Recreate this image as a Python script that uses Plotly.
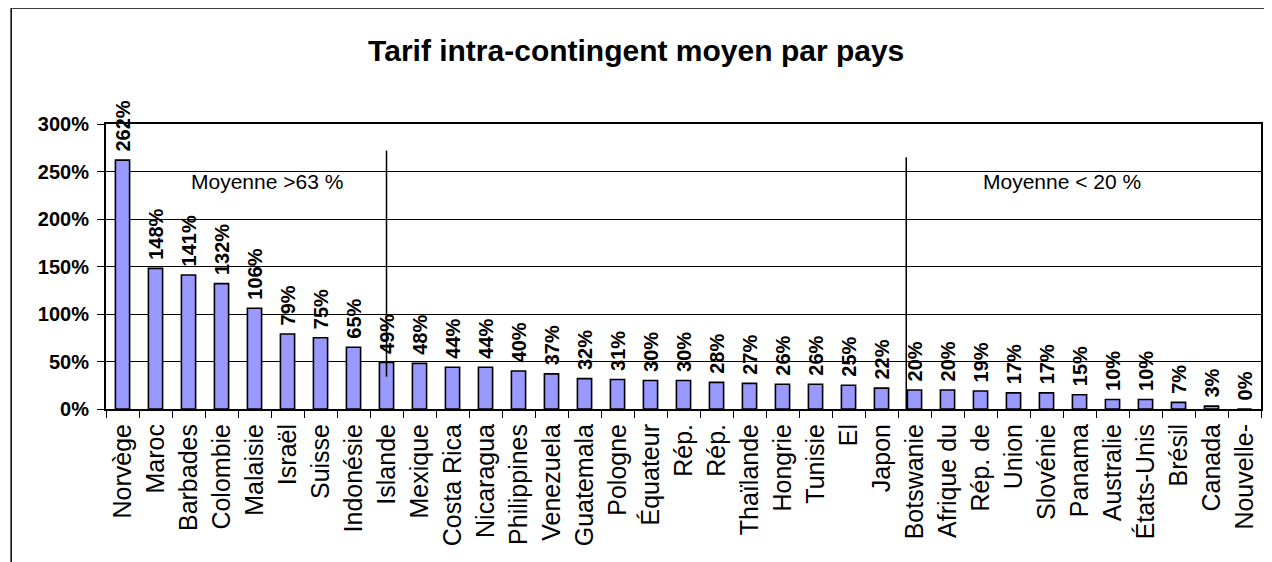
import plotly.graph_objects as go

# Tarif intra-contingent moyen par pays (%)
pays = ["Norvège", "Maroc", "Barbades", "Colombie", "Malaisie", "Israël", "Suisse",
        "Indonésie", "Islande", "Mexique", "Costa Rica", "Nicaragua", "Philippines",
        "Venezuela", "Guatemala", "Pologne", "Équateur", "Rép.", "Rép.", "Thaïlande",
        "Hongrie", "Tunisie", "El", "Japon", "Botswanie", "Afrique du", "Rép. de",
        "Union", "Slovénie", "Panama", "Australie", "États-Unis", "Brésil", "Canada",
        "Nouvelle-"]
tarif = [262, 148, 141, 132, 106, 79, 75, 65, 49, 48, 44, 44, 40, 37, 32, 31, 30, 30,
         28, 27, 26, 26, 25, 22, 20, 20, 19, 17, 17, 15, 10, 10, 7, 3, 0]
y_ticks = [0, 50, 100, 150, 200, 250, 300]
y_labels = ["0%", "50%", "100%", "150%", "200%", "250%", "300%"]

# the page body adds an 8px margin, so the figure is 8px smaller
W, H = 1264, 554
ML, MR, MT, MB = 98, 9, 116, 153
pw, ph = W - ML - MR, H - MT - MB

x = list(range(len(pays)))
font = "Liberation Sans, Arial, sans-serif"

fig = go.Figure()
fig.add_trace(go.Bar(
    x=x, y=tarif,
    marker=dict(color="#9999FF", line=dict(color="black", width=1.6)),
    width=0.43,
    text=[f"\u00a0{v}%" for v in tarif],
    textposition="outside", textangle=-90, constraintext="none",
    textfont=dict(family=font, size=20, color="black", weight="bold"),
    cliponaxis=False,
    hoverinfo="skip",
))

# separators between groups
fig.add_shape(type="line", xref="x", yref="y", x0=8, x1=8, y0=34, y1=272,
              line=dict(color="black", width=1.5))
fig.add_shape(type="line", xref="x", yref="y", x0=23.75, x1=23.75, y0=0, y1=265,
              line=dict(color="black", width=1.5))
fig.add_annotation(x=4.37, y=239, xref="x", yref="y", text="Moyenne >63 %",
                   showarrow=False, font=dict(family=font, size=21, color="black"))
fig.add_annotation(x=28.48, y=239, xref="x", yref="y", text="Moyenne < 20 %",
                   showarrow=False, font=dict(family=font, size=21, color="black"))

# outer chart frame
fig.add_shape(type="rect", xref="paper", yref="paper",
              x0=(3 - ML) / pw, x1=(W + 10 - ML) / pw,
              y0=(H - MB - (H + 10)) / ph, y1=(H - MB - 0) / ph,
              line=dict(color="black", width=1.5), layer="below")

fig.update_layout(
    width=W, height=H,
    margin=dict(l=ML, r=MR, t=MT, b=MB),
    paper_bgcolor="white", plot_bgcolor="white",
    showlegend=False,
    title=dict(text="<b>Tarif intra-contingent moyen par pays</b>",
               x=0.497, xref="container", xanchor="center", y=1 - 42 / H, yanchor="middle",
               font=dict(family=font, size=30, color="black")),
    xaxis=dict(
        range=[-0.5, len(pays) - 0.5],
        tickmode="array", tickvals=x, ticktext=pays, tickangle=-90,
        ticks="", showgrid=False, zeroline=False,
        tickfont=dict(family=font, size=25, color="black"),
        ticklabelstandoff=3,
        showline=True, linecolor="black", linewidth=2, mirror=True,
        minor=dict(tickmode="array", tickvals=[i - 0.5 for i in range(len(pays) + 1)],
                   ticks="outside", ticklen=7, tickwidth=1, tickcolor="black",
                   showgrid=False),
        fixedrange=True,
    ),
    yaxis=dict(
        range=[0, 300],
        tickmode="array", tickvals=y_ticks, ticktext=y_labels,
        ticks="outside", ticklen=7, tickwidth=1, tickcolor="black",
        tickfont=dict(family=font, size=20, color="black", weight="bold"),
        ticklabelstandoff=4,
        showgrid=True, gridcolor="black", gridwidth=1, zeroline=False,
        showline=True, linecolor="black", linewidth=2, mirror=True,
        fixedrange=True,
    ),
)

fig.write_html("out.html")
